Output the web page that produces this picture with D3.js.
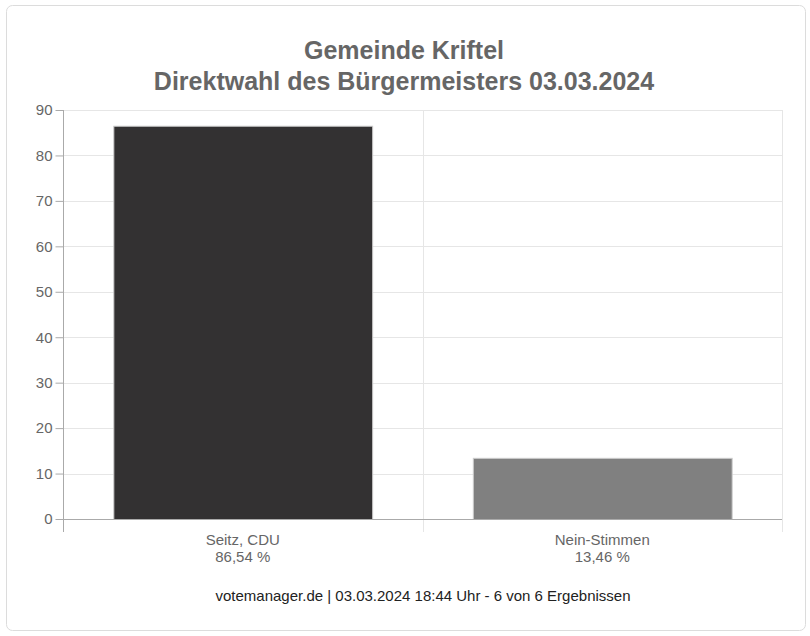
<!DOCTYPE html>
<html>
<head>
<meta charset="utf-8">
<script src="https://cdn.jsdelivr.net/npm/d3@7"></script>
<style>
  body { margin: 0; background: #fff; font-family: "Liberation Sans", Arial, sans-serif; }
</style>
</head>
<body>
<script>
// Data
const categories = ["Seitz, CDU", "Nein-Stimmen"];
const values = [86.54, 13.46];
const valueLabels = ["86,54 %", "13,46 %"];
const barColors = ["#333132", "#808080"];
const yTicks = [0, 10, 20, 30, 40, 50, 60, 70, 80, 90];
const titleLines = ["Gemeinde Kriftel", "Direktwahl des Bürgermeisters 03.03.2024"];
const footer = "votemanager.de | 03.03.2024 18:44 Uhr - 6 von 6 Ergebnissen";

const width = 810;
const height = 636;
const margin = { top: 110, right: 28, bottom: 117, left: 63 };

const svg = d3.select("body")
    .append("svg")
    .attr("width", width)
    .attr("height", height);

// card
svg.append("rect")
    .attr("x", 6.5).attr("y", 5.5)
    .attr("width", 799).attr("height", 625)
    .attr("rx", 6)
    .attr("fill", "#fff")
    .attr("stroke", "#dcdcdc");

const x = d3.scaleBand()
    .domain(categories)
    .range([margin.left, width - margin.right])
    .paddingInner(0)
    .paddingOuter(0);

const y = d3.scaleLinear()
    .domain([0, 90])
    .range([height - margin.bottom, margin.top]);

// title
svg.append("text")
    .attr("text-anchor", "middle")
    .attr("fill", "#666")
    .style("font-size", "25px")
    .style("font-weight", "bold")
    .selectAll("tspan")
    .data(titleLines)
    .enter()
    .append("tspan")
    .attr("x", 404)
    .attr("y", (d, i) => 59 + i * 31)
    .text(d => d);

// horizontal grid
svg.append("g")
    .selectAll("line")
    .data(yTicks.filter(d => d > 0))
    .enter()
    .append("line")
    .attr("x1", margin.left)
    .attr("x2", width - margin.right)
    .attr("y1", d => Math.round(y(d)) + 0.5)
    .attr("y2", d => Math.round(y(d)) + 0.5)
    .attr("stroke", "#e6e6e6");

// vertical grid at category boundaries
const bounds = categories.map(c => x(c) + x.bandwidth());
svg.append("g")
    .selectAll("line")
    .data(bounds)
    .enter()
    .append("line")
    .attr("x1", d => Math.round(d) + 0.5)
    .attr("x2", d => Math.round(d) + 0.5)
    .attr("y1", margin.top)
    .attr("y2", height - margin.bottom + 13)
    .attr("stroke", "#e6e6e6");

// bars
const barW = x.bandwidth() * 0.72;
svg.append("g")
    .selectAll("rect")
    .data(values)
    .enter()
    .append("rect")
    .attr("x", (d, i) => x(categories[i]) + (x.bandwidth() - barW) / 2 + 0.5)
    .attr("y", d => y(d) + 0.5)
    .attr("width", barW)
    .attr("height", d => y(0) - y(d))
    .attr("fill", (d, i) => barColors[i])
    .attr("stroke", "#cccccc")
    .attr("stroke-width", 1);

// y axis
const yAxis = svg.append("g")
    .attr("transform", `translate(${margin.left + 0.5},0)`)
    .call(d3.axisLeft(y).tickValues(yTicks).tickSize(8).tickPadding(3));
yAxis.select(".domain").remove();
yAxis.selectAll(".tick line").attr("stroke", "#aaa");
yAxis.selectAll(".tick text")
    .attr("fill", "#666")
    .style("font-size", "15px")
    .style("font-family", "Liberation Sans, Arial, sans-serif");

svg.append("line")
    .attr("x1", margin.left + 0.5).attr("x2", margin.left + 0.5)
    .attr("y1", margin.top).attr("y2", height - margin.bottom + 13)
    .attr("stroke", "#aaa");

// x baseline
svg.append("line")
    .attr("x1", margin.left).attr("x2", width - margin.right)
    .attr("y1", Math.round(y(0)) + 0.5).attr("y2", Math.round(y(0)) + 0.5)
    .attr("stroke", "#aaa");

// x labels
const xl = svg.append("g")
    .selectAll("text")
    .data(categories)
    .enter()
    .append("text")
    .attr("text-anchor", "middle")
    .attr("fill", "#666")
    .style("font-size", "15px");
xl.append("tspan")
    .attr("x", d => x(d) + x.bandwidth() / 2)
    .attr("y", 545)
    .text(d => d);
xl.append("tspan")
    .attr("x", d => x(d) + x.bandwidth() / 2)
    .attr("y", 562)
    .text((d, i) => valueLabels[i]);

// footer
svg.append("text")
    .attr("x", 423)
    .attr("y", 601)
    .attr("text-anchor", "middle")
    .attr("fill", "#222")
    .style("font-size", "15px")
    .text(footer);
</script>
</body>
</html>
